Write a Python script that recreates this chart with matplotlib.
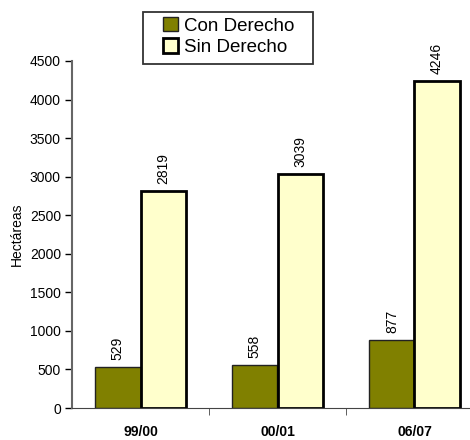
import matplotlib
matplotlib.use("Agg")
import matplotlib.pyplot as plt
import numpy as np
from matplotlib.ticker import FixedLocator, NullFormatter
from matplotlib.patches import Rectangle

categories = ["99/00", "00/01", "06/07"]
con_derecho = [529, 558, 877]
sin_derecho = [2819, 3039, 4246]
yticks = [0, 500, 1000, 1500, 2000, 2500, 3000, 3500, 4000, 4500]

plt.rcParams['font.family'] = ["Liberation Sans", "DejaVu Sans"]

W, H = 470, 440
fig = plt.figure(figsize=(4.7, 4.4), dpi=100)
ax = fig.add_axes([72/W, 32/H, 411/W, 347/H])

x = np.arange(len(categories))
w = 0.33
b1 = ax.bar(x - w/2, con_derecho, w, color="#808000", edgecolor="#222222", linewidth=1.0, label="Con Derecho")
b2 = ax.bar(x + w/2, sin_derecho, w, color="#FFFFCC", edgecolor="black", linewidth=2.0, label="Sin Derecho")

for rect, v in list(zip(b1, con_derecho)) + list(zip(b2, sin_derecho)):
    ax.annotate(str(v), (rect.get_x() + rect.get_width()/2, rect.get_height()),
                xytext=(0, 5), textcoords="offset points", rotation=90,
                ha="center", va="bottom", fontsize=10)

ax.set_xlim(-0.5, 2.5)
ax.set_ylim(0, 4500)
ax.set_yticks(yticks)
ax.tick_params(axis="y", direction="out", length=5, labelsize=10, colors="black", width=1, pad=3)
ax.set_xticks(x)
ax.set_xticklabels(categories, fontsize=10, fontweight="semibold")
ax.tick_params(axis="x", which="major", length=0, pad=12)
ax.xaxis.set_minor_locator(FixedLocator([0.5, 1.5]))
ax.xaxis.set_minor_formatter(NullFormatter())
ax.tick_params(axis="x", which="minor", length=5, direction="out", color="#444444")
ax.set_ylabel("Hectáreas", fontsize=10, labelpad=4)

for s in ["top", "right"]:
    ax.spines[s].set_visible(False)
ax.spines["left"].set_color("#666666")
ax.spines["left"].set_linewidth(1.5)
ax.spines["bottom"].set_color("#444444")

# legend frame
fig.patches.append(Rectangle((143/W, 1 - 64/H), 170/W, 52/H, transform=fig.transFigure,
                             facecolor="white", edgecolor="#333333", linewidth=1.3, zorder=5))
leg = fig.legend(handles=[b1, b2], loc="upper left", bbox_to_anchor=(163/W, 1 - 17/H),
                 frameon=False,
                 prop={"family": ["Liberation Sans", "DejaVu Sans"], "size": 13.5},
                 handlelength=0.8, handleheight=0.8, handletextpad=0.3,
                 borderpad=0.0, labelspacing=0.2, borderaxespad=0)
leg.set_zorder(6)

fig.savefig("out.png", dpi=100)
